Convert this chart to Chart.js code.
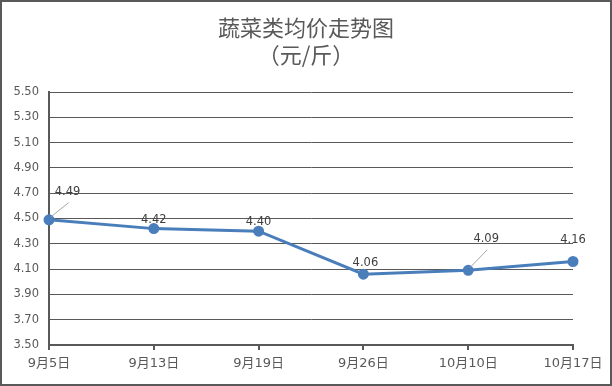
<!DOCTYPE html>
<html><head><meta charset="utf-8">
<script src="https://cdn.jsdelivr.net/npm/chart.js@4.4.0/dist/chart.umd.min.js"></script>
<style>html,body{margin:0;padding:0;background:#fff;}#wrap{width:612px;height:386px;position:relative;}</style>
</head><body><div id="wrap"><canvas id="c" width="612" height="386"></canvas></div>
<script>
const categories = ['9月5日','9月13日','9月19日','9月26日','10月10日','10月17日'];
const prices = [4.49, 4.42, 4.40, 4.06, 4.09, 4.16];
const titleLines = ['蔬菜类均价走势图','（元/斤）'];
const yMin = 3.5, yMax = 5.5, yStep = 0.2;
// label placement relative to the point: [dx, dy, leader]
const labelPlacement = [[18.5,-28,true],[0,-9,false],[0,-9,false],[2,-11.5,false],[18,-31.5,true],[0,-21,false]];

const gray = '#595959';
const fontFam = '"DejaVu Sans","Noto Sans CJK SC",sans-serif';

const decor = {
  id:'decor',
  afterDraw(chart){
    const ctx = chart.ctx;
    ctx.save();
    // title
    ctx.fillStyle = gray;
    ctx.textAlign='center'; ctx.textBaseline='middle';
    ctx.font = '22px "Noto Sans CJK SC",sans-serif';
    ctx.fillText(titleLines[0], 306, 28);
    ctx.fillText(titleLines[1], 306, 55);
    // data labels
    const meta = chart.getDatasetMeta(0);
    ctx.font = '11.5px '+fontFam;
    meta.data.forEach((pt,i)=>{
      const p = labelPlacement[i];
      const lx = pt.x + p[0], ly = pt.y + p[1];
      if(p[2]){
        ctx.strokeStyle='#a6a6a6'; ctx.lineWidth=1;
        ctx.beginPath();
        ctx.moveTo(pt.x+2, pt.y-3);
        ctx.lineTo(lx+1, ly+11);
        ctx.stroke();
      }
      ctx.fillStyle='#404040';
      ctx.fillText(prices[i].toFixed(2), lx, ly);
    });
    // frame
    ctx.strokeStyle = gray; ctx.lineWidth = 2;
    ctx.strokeRect(1,1,610,384);
    ctx.restore();
  }
};

new Chart(document.getElementById('c'),{
  type:'line',
  data:{labels:categories,datasets:[{data:prices,borderColor:'#4a7ebb',backgroundColor:'#4a7ebb',borderWidth:3,pointRadius:4,pointHoverRadius:4,tension:0,clip:false}]},
  options:{
    responsive:false,animation:false,
    layout:{padding:{top:92,right:39,left:0,bottom:0}},
    plugins:{legend:{display:false},tooltip:{enabled:false},title:{display:false}},
    scales:{
      x:{offset:false,
        grid:{drawOnChartArea:false,drawTicks:true,tickLength:5,color:gray,lineWidth:2},
        border:{color:gray,width:2},
        ticks:{color:gray,font:{size:13,family:fontFam},padding:6,maxRotation:0,autoSkip:false},
        afterFit(s){s.height=41;}
      },
      y:{min:yMin,max:yMax,
        grid:{color:gray,lineWidth:1,drawTicks:false},
        border:{color:gray,width:2},
        ticks:{stepSize:yStep,color:gray,font:{size:11.5,family:fontFam},padding:10,callback:v=>Number(v).toFixed(2)},
        afterFit(s){s.width=49;}
      }
    }
  },
  plugins:[decor]
});
</script></body></html>
